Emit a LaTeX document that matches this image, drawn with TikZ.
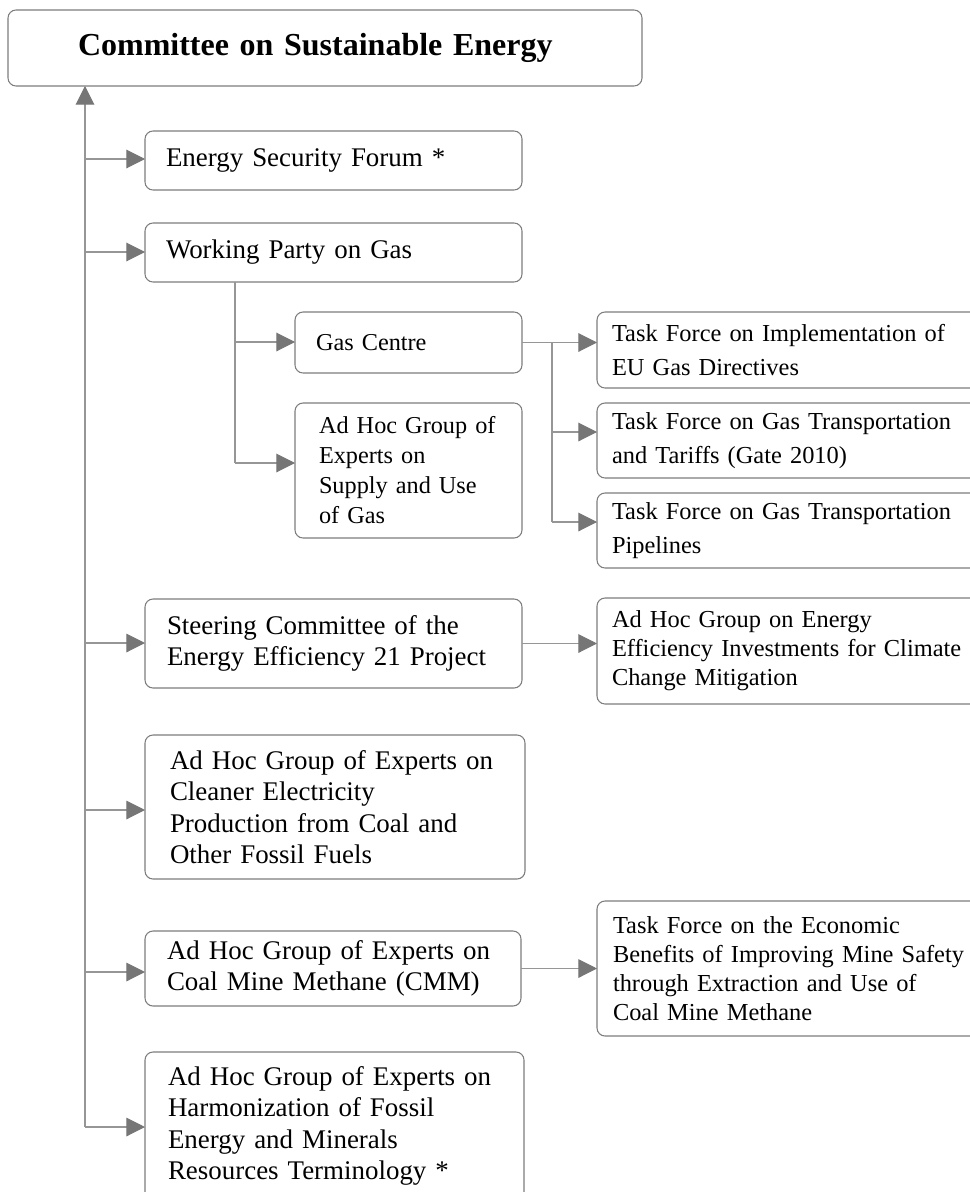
\documentclass[tikz,border=0pt]{standalone}
\usepackage{fontspec}
\setmainfont{Liberation Serif}
\usetikzlibrary{arrows.meta}
\newdimen\pxu \pxu=0.75pt
\definecolor{linegray}{RGB}{150,150,150}
\definecolor{arrowgray}{RGB}{118,118,118}
\definecolor{boxgray}{RGB}{125,125,125}
\begin{document}
\begin{tikzpicture}[x=0.75pt,y=-0.75pt,
  box/.style={draw=boxgray, line width=0.8pt, rounded corners=6pt, rectangle,
    anchor=north west, inner ysep=0pt, outer sep=0pt, align=left},
  bx/.style n args={4}{minimum width=#1\pxu, minimum height=#2\pxu, text width=#3\pxu, inner xsep=#4\pxu},
  fa/.style={font=\fontsize{20.2pt}{23.5pt}\selectfont},
  fb/.style={font=\fontsize{18.2pt}{22.5pt}\selectfont},
  fc/.style={font=\fontsize{18.3pt}{25.5pt}\selectfont},
  fd/.style={font=\fontsize{18.3pt}{21.8pt}\selectfont},
  conn/.style={draw=linegray, line width=0.8pt},
  arr/.style={conn, -{Triangle[length=14pt,width=14pt,color=arrowgray]}}
]
\useasboundingbox (0,0) rectangle (970,1192);
\clip (0,0) rectangle (970,1192);

% title
\node[box, bx={634}{76}{494}{70}, font=\bfseries\fontsize{24pt}{29pt}\selectfont] (title) at (8,10) {Committee on Sustainable Energy};

% left column
\node[box, fa, bx={377}{59}{335}{21}] (esf) at (145,131) {Energy Security Forum *};
\node[box, fa, bx={377}{59}{335}{21}] (wpg) at (145,223) {Working Party on Gas};
\node[box, fa, bx={377}{89}{333}{22}] (st) at (145,599) {Steering Committee of the\\Energy Efficiency 21 Project};
\node[box, fa, bx={380}{144}{330}{25}] (cl) at (145,735) {Ad Hoc Group of Experts on\\Cleaner Electricity\\Production from Coal and\\Other Fossil Fuels};
\node[box, fa, bx={376}{75}{332}{22}] (cmm) at (145,931) {Ad Hoc Group of Experts on\\Coal Mine Methane (CMM)};
\node[box, fa, bx={379}{148}{333}{23}] (hm) at (145,1052) {Ad Hoc Group of Experts on\\Harmonization of Fossil\\Energy and Minerals\\Resources Terminology *};

% middle column
\node[box, fb, bx={227}{61}{185}{21}] (gc) at (295,312) {Gas Centre};
\node[box, fb, bx={227}{135}{179}{24}] (sup) at (295,403) {\mbox{Ad Hoc Group of}\\\mbox{Experts on}\\\mbox{Supply and Use}\\\mbox{of Gas}};

% right column
\node[box, fc, bx={420}{76}{390}{15}] (tf1) at (597,312) {Task Force on Implementation of\\EU Gas Directives};
\node[box, fc, bx={420}{75}{390}{15}] (tf2) at (597,403) {Task Force on Gas Transportation\\and Tariffs (Gate 2010)};
\node[box, fc, bx={420}{75}{390}{15}] (tf3) at (597,493) {Task Force on Gas Transportation\\Pipelines};
\node[box, fd, bx={420}{106}{390}{15}] (ee) at (597,598) {Ad Hoc Group on Energy\\Efficiency Investments for Climate\\Change Mitigation};
\node[box, fd, bx={420}{135}{388}{16}] (tfc) at (597,901) {Task Force on the Economic\\Benefits of Improving Mine Safety\\through Extraction and Use of\\Coal Mine Methane};

% trunk
\coordinate (b1) at (85,159);
\coordinate (b2) at (85,252);
\coordinate (b3) at (85,643);
\coordinate (b4) at (85,810);
\coordinate (b5) at (85,972);
\coordinate (b6) at (85,1127);
\draw[arr] (b6) -- (b6 |- title.south);
\draw[arr] (b1) -- (b1 -| esf.west);
\draw[arr] (b2) -- (b2 -| wpg.west);
\draw[arr] (b3) -- (b3 -| st.west);
\draw[arr] (b4) -- (b4 -| cl.west);
\draw[arr] (b5) -- (b5 -| cmm.west);
\draw[arr] (b6) -- (b6 -| hm.west);

% working party branch
\coordinate (wg) at (235,342);
\coordinate (ws) at (235,463);
\draw[conn] (wg |- wpg.south) -- (ws);
\draw[arr] (wg) -- (wg -| gc.west);
\draw[arr] (ws) -- (ws -| sup.west);

% gas centre branch
\coordinate (g1) at (552,342.5);
\coordinate (g2) at (552,432);
\coordinate (g3) at (552,522);
\draw[arr] (gc.east) -- (gc.east -| tf1.west);
\draw[conn] (g1) -- (g3);
\draw[arr] (g2) -- (g2 -| tf2.west);
\draw[arr] (g3) -- (g3 -| tf3.west);

% steering and CMM branches
\draw[arr] (st.east) -- (st.east -| ee.west);
\draw[arr] (cmm.east) -- (cmm.east -| tfc.west);
\end{tikzpicture}
\end{document}
